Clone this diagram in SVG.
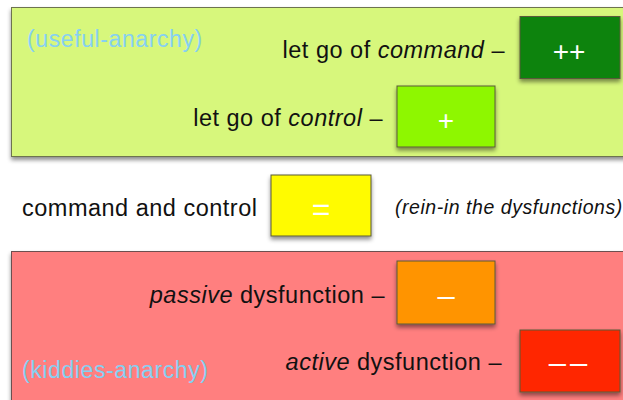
<svg xmlns="http://www.w3.org/2000/svg" width="623" height="400" viewBox="0 0 623 400">
<defs>
<filter id="sh" x="-10%" y="-10%" width="130%" height="140%">
<feDropShadow dx="0" dy="3" stdDeviation="2" flood-color="#000" flood-opacity="0.45"/>
</filter>
<style>
.lbl{font-family:"Liberation Sans",Arial,sans-serif;font-size:23.5px;letter-spacing:0.5px;fill:#111}
.it{font-style:italic}
.note{font-family:"Liberation Sans",Arial,sans-serif;font-size:23px;letter-spacing:0.6px;fill:#86d0f2}
.sym{font-family:"Liberation Sans",Arial,sans-serif;font-size:28px;fill:#fff;text-anchor:middle}
.dash{font-size:31px}
.box{stroke:#5a5a3a;stroke-width:1;filter:url(#sh)}
</style>
</defs>
<rect width="623" height="400" fill="#fff"/>
<g id="zone-useful">
<rect x="11.5" y="7.5" width="640" height="149" fill="#d7f77b" stroke="#6d7350" filter="url(#sh)"/>
<text class="note" x="27" y="47">(useful-anarchy)</text>
</g>
<g id="zone-kiddies">
<rect x="11.5" y="251.5" width="640" height="170" fill="#ff7f7f" stroke="#6d5050" filter="url(#sh)"/>
<text class="note" x="22" y="378">(kiddies-anarchy)</text>
</g>
<g id="node-command">
<text class="lbl" x="505" y="58" text-anchor="end">let go of <tspan class="it">command</tspan> –</text>
<rect class="box" x="520" y="16.5" width="100" height="62" fill="#07830b"/>
<text class="sym" x="569" y="61">++</text>
</g>
<g id="node-control">
<text class="lbl" x="383" y="126" text-anchor="end">let go of <tspan class="it">control</tspan> –</text>
<rect class="box" x="397" y="86" width="98" height="61" fill="#8ef700"/>
<text class="sym" x="446" y="129.5">+</text>
</g>
<g id="node-cc">
<text class="lbl" x="22" y="216">command and control</text>
<rect class="box" x="271" y="175" width="100" height="61" fill="#fffb00"/>
<text class="sym" x="321" y="220" style="font-size:32px">=</text>
<text class="lbl it" x="395" y="214" style="font-size:19.5px;letter-spacing:0.55px">(rein-in the dysfunctions)</text>
</g>
<g id="node-passive">
<text class="lbl" x="385" y="303" text-anchor="end"><tspan class="it">passive</tspan> dysfunction –</text>
<rect class="box" x="397" y="261" width="98" height="63" fill="#ff9400"/>
<text class="sym dash" x="446" y="305.5">–</text>
</g>
<g id="node-active">
<text class="lbl" x="502" y="370" text-anchor="end"><tspan class="it">active</tspan> dysfunction –</text>
<rect class="box" x="520" y="330" width="100" height="62" fill="#ff2600"/>
<text class="sym dash" x="570" y="372.5" style="letter-spacing:4px">––</text>
</g>
<g id="connectors"></g>
</svg>
